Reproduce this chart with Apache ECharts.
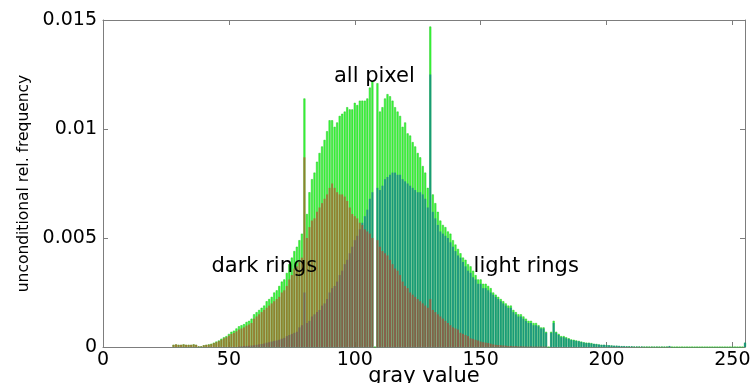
<!DOCTYPE html>
<html>
<head>
<meta charset="utf-8">
<script src="https://cdn.jsdelivr.net/npm/echarts@6/dist/echarts.min.js"></script>
<style>
  html, body { margin: 0; padding: 0; background: #fff; }
  #chart { width: 751px; height: 383px; }
</style>
</head>
<body>
<div id="chart"></div>
<script>
// Gray-value histograms; each array starts at gray value firstGray and runs to 255.
const firstGray = 28;

// all pixels
const allPixel = [
  0.0001, 0.00012, 0.0001, 0.0001, 0.00012, 0.0001, 0.0001, 0.0001, 0.00012, 0.0001,
  0.00003, 0.00003, 0.00008, 0.0001, 0.00012, 0.00015, 0.0002, 0.00025, 0.0003, 0.00038,
  0.00045, 0.0005, 0.0006, 0.0007, 0.00075, 0.00085, 0.00095, 0.001, 0.00105, 0.00115,
  0.0012, 0.0013, 0.0015, 0.0016, 0.0017, 0.0018, 0.0019, 0.0021, 0.0022, 0.0023,
  0.0025, 0.0026, 0.0028, 0.003, 0.0031, 0.0034, 0.0038, 0.0041, 0.0044, 0.0046,
  0.0049, 0.0052, 0.0114, 0.0061, 0.0071, 0.0077, 0.008, 0.0085, 0.0089, 0.0092,
  0.0095, 0.0099, 0.0104, 0.0104, 0.0101, 0.0103, 0.0106, 0.0107, 0.0108, 0.011,
  0.0109, 0.0109, 0.0112, 0.0111, 0.0113, 0.0113, 0.0113, 0.0114, 0.0119, 0.0122,
  0, 0.0121, 0.0108, 0.011, 0.0114, 0.0116, 0.0115, 0.0113, 0.011, 0.0108,
  0.0106, 0.0101, 0.0103, 0.0098, 0.0097, 0.0094, 0.0092, 0.0089, 0.0087, 0.0083,
  0.008, 0.0073, 0.0147, 0.007, 0.0066, 0.0062, 0.0058, 0.0056, 0.0055, 0.0053,
  0.0052, 0.0049, 0.0047, 0.0045, 0.0043, 0.0041, 0.004, 0.0038, 0.0037, 0.0035,
  0.0033, 0.0031, 0.0031, 0.0029, 0.0029, 0.0028, 0.0027, 0.0025, 0.0024, 0.0023,
  0.0022, 0.0021, 0.002, 0.0019, 0.0019, 0.0017, 0.0016, 0.0015, 0.0015, 0.0014,
  0.0013, 0.0012, 0.0012, 0.0011, 0.0011, 0.001, 0.0009, 0.0009, 0.0007, 0,
  0.0007, 0.0012, 0.0007, 0.0006, 0.0005, 0.0005, 0.00045, 0.0004, 0.00035, 0.00033,
  0.0003, 0.00028, 0.00025, 0.00022, 0.0002, 0.0002, 0.00018, 0.00015, 0.00014, 0.00012,
  0.0001, 0.0001, 0.00009, 0.00008, 0.00007, 0.00006, 0.00006, 0.00005, 0.00004, 0.00004,
  0.00003, 0.00003, 0.00003, 0.00002, 0.00002, 0.00002, 0.00002, 0.00001, 0.00001, 0.00001,
  0.00001, 0.00001, 0.00001, 0.00001, 0.00001, 0.00001, 0.00001, 0.00004, 0, 0,
  0, 0, 0, 0, 0, 0, 0, 0, 0, 0,
  0, 0, 0, 0, 0, 0, 0, 0, 0, 0,
  0, 0, 0, 0, 0, 0, 0, 0.0002
];

// pixels belonging to dark rings
const darkRings = [
  0.0001, 0.00012, 0.0001, 0.0001, 0.00012, 0.0001, 0.0001, 0.0001, 0.00012, 0.0001,
  0.00003, 0.00003, 0.00008, 0.0001, 0.00011, 0.00013, 0.00018, 0.00022, 0.00027, 0.00033,
  0.0004, 0.00045, 0.00052, 0.0006, 0.00065, 0.00072, 0.0008, 0.00085, 0.0009, 0.00098,
  0.00103, 0.0011, 0.0013, 0.0014, 0.0015, 0.0016, 0.0017, 0.0018, 0.0019, 0.002,
  0.0021, 0.0022, 0.0023, 0.0025, 0.0026, 0.0028, 0.0031, 0.0033, 0.0036, 0.0037,
  0.0039, 0.0041, 0.0087, 0.005, 0.0055, 0.0058, 0.0059, 0.0062, 0.0064, 0.0066,
  0.0068, 0.007, 0.0073, 0.0075, 0.0073, 0.0071, 0.007, 0.007, 0.0069, 0.0067,
  0.0064, 0.0061, 0.006, 0.0059, 0.0057, 0.0056, 0.0054, 0.0053, 0.0052, 0.005,
  0, 0.0049, 0.0046, 0.0044, 0.0043, 0.0042, 0.004, 0.0038, 0.0036, 0.0035,
  0.0033, 0.003, 0.0028, 0.0027, 0.0025, 0.0024, 0.0023, 0.0022, 0.0021, 0.002,
  0.0019, 0.0018, 0.0022, 0.0017, 0.0016, 0.0015, 0.0014, 0.0013, 0.0012, 0.0011,
  0.001, 0.0009, 0.00085, 0.0008, 0.00065, 0.0006, 0.00055, 0.0005, 0.0004, 0.00037,
  0.00033, 0.0003, 0.00025, 0.00022, 0.0002, 0.00018, 0.00015, 0.00012, 0.0001, 0.00009,
  0.00008, 0.00007, 0.00006, 0.00005, 0.00005, 0.00004, 0.00004, 0.00003, 0.00003, 0.00003,
  0.00002, 0.00002, 0.00002, 0.00002, 0.00002, 0.00002, 0.00002, 0.00002, 0.00002, 0,
  0, 0, 0, 0, 0, 0, 0, 0, 0, 0,
  0, 0, 0, 0, 0, 0, 0, 0, 0, 0,
  0, 0, 0, 0, 0, 0, 0, 0, 0, 0,
  0, 0, 0, 0, 0, 0, 0, 0, 0, 0,
  0, 0, 0, 0, 0, 0, 0, 0, 0, 0,
  0, 0, 0, 0, 0, 0, 0, 0, 0, 0,
  0, 0, 0, 0, 0, 0, 0, 0, 0, 0,
  0, 0, 0, 0, 0, 0, 0, 0
];

// pixels belonging to light rings
const lightRings = [
  0, 0, 0, 0, 0, 0, 0, 0, 0, 0,
  0, 0, 0, 0, 0, 0, 0, 0, 0, 0,
  0, 0, 0, 0, 0, 0, 0.00002, 0.00003, 0.00004, 0.00005,
  0.00006, 0.00007, 0.00008, 0.0001, 0.00012, 0.00014, 0.00016, 0.0002, 0.00022, 0.00025,
  0.00028, 0.0003, 0.00033, 0.00038, 0.00042, 0.0005, 0.00055, 0.0006, 0.00065, 0.0007,
  0.0009, 0.001, 0.0025, 0.0011, 0.0012, 0.0014, 0.0015, 0.0016, 0.0017, 0.0019,
  0.002, 0.0022, 0.0025, 0.0027, 0.0028, 0.003, 0.0033, 0.0035, 0.0038, 0.004,
  0.0043, 0.0046, 0.0049, 0.0051, 0.0054, 0.0057, 0.006, 0.0063, 0.0068, 0.0071,
  0, 0.0073, 0.0072, 0.0074, 0.0077, 0.0078, 0.0079, 0.008, 0.008, 0.0079,
  0.0079, 0.0077, 0.0076, 0.0075, 0.0074, 0.0073, 0.0072, 0.0071, 0.0071, 0.007,
  0.0068, 0.0064, 0.0125, 0.0062, 0.0059, 0.0056, 0.0053, 0.0052, 0.0051, 0.005,
  0.0048, 0.0046, 0.0044, 0.0042, 0.0041, 0.0039, 0.0037, 0.0035, 0.0034, 0.0032,
  0.0031, 0.0029, 0.0029, 0.0027, 0.0027, 0.0026, 0.0025, 0.0024, 0.0023, 0.0022,
  0.0021, 0.002, 0.0019, 0.0018, 0.0018, 0.0016, 0.0015, 0.0014, 0.0014, 0.0013,
  0.0012, 0.0011, 0.0011, 0.001, 0.001, 0.00095, 0.00085, 0.00085, 0.00065, 0,
  0.00065, 0.0011, 0.00065, 0.00055, 0.00045, 0.00045, 0.0004, 0.00037, 0.00032, 0.0003,
  0.00028, 0.00026, 0.00023, 0.0002, 0.00018, 0.00018, 0.00016, 0.00014, 0.00013, 0.00011,
  0.0001, 0.0001, 0.00009, 0.00008, 0.00007, 0.00006, 0.00006, 0.00005, 0.00004, 0.00004,
  0.00003, 0.00003, 0.00003, 0.00002, 0.00002, 0.00002, 0.00002, 0.00001, 0.00001, 0.00001,
  0.00001, 0.00001, 0.00001, 0.00001, 0.00001, 0.00001, 0.00001, 0.00004, 0, 0,
  0, 0, 0, 0, 0, 0, 0, 0, 0, 0,
  0, 0, 0, 0, 0, 0, 0, 0, 0, 0,
  0, 0, 0, 0, 0, 0, 0, 0.0002
];

// x axis ticks
const xTicks = [0, 50, 100, 150, 200, 250];
// y axis ticks
const yTicks = [0, 0.005, 0.01, 0.015];

// in-plot annotations: text, gray value, frequency
const annotations = [
  { text: 'all pixel', at: [107.8, 0.0124] },
  { text: 'dark rings', at: [64.1, 0.0037] },
  { text: 'light rings', at: [168.1, 0.0037] }
];

const toPairs = arr => arr.map((v, i) => [firstGray + i, v]);

const axisColor = '#7d7d7d';
const labelFont = { color: '#000', fontFamily: 'DejaVu Sans', fontSize: 19 };

const chart = echarts.init(document.getElementById('chart'), null, { renderer: 'canvas' });

const xBase = {
  type: 'value', min: 0, max: 255, interval: 50,
  axisLine: { show: true, onZero: false, lineStyle: { color: axisColor, width: 1 } },
  axisTick: { show: true, inside: true, length: 5, lineStyle: { color: axisColor } },
  splitLine: { show: false }
};
const yBase = {
  type: 'value', min: 0, max: 0.015, interval: 0.005,
  axisLine: { show: true, onZero: false, lineStyle: { color: axisColor, width: 1 } },
  axisTick: { show: true, inside: true, length: 5, lineStyle: { color: axisColor } },
  splitLine: { show: false }
};

const barCommon = {
  type: 'bar',
  barWidth: 2,
  barGap: '-100%',
  animation: false,
  silent: true
};

chart.setOption({
  backgroundColor: '#fff',
  animation: false,
  grid: { left: 103, right: 6, top: 20, bottom: 36, containLabel: false, outerBoundsMode: 'none' },
  xAxis: [
    Object.assign({}, xBase, {
      position: 'bottom',
      name: 'gray value',
      nameLocation: 'middle',
      nameGap: 19,
      nameMoveOverlap: false,
      nameTextStyle: { color: '#000', fontFamily: 'DejaVu Sans', fontSize: 21 },
      axisLabel: Object.assign({ margin: 4, showMaxLabel: false,
        formatter: v => (xTicks.indexOf(v) >= 0 ? String(v) : '') }, labelFont)
    }),
    Object.assign({}, xBase, { position: 'top', axisLabel: { show: false } })
  ],
  yAxis: [
    Object.assign({}, yBase, {
      position: 'left',
      name: 'unconditional rel. frequency',
      nameLocation: 'middle',
      nameGap: 71,
      nameMoveOverlap: false,
      nameRotate: 90,
      nameTextStyle: { color: '#000', fontFamily: 'DejaVu Sans', fontSize: 15.5 },
      axisLabel: Object.assign({ margin: 6,
        formatter: v => (yTicks.indexOf(v) >= 0 ? String(v) : '') }, labelFont)
    }),
    Object.assign({}, yBase, { position: 'right', axisLabel: { show: false } })
  ],
  series: [
    Object.assign({}, barCommon, {
      name: 'all pixel',
      data: toPairs(allPixel),
      itemStyle: { color: '#3cfc3c', borderColor: '#22c822', borderWidth: 0.5 }
    }),
    Object.assign({}, barCommon, {
      name: 'light rings',
      data: toPairs(lightRings),
      itemStyle: { color: 'rgba(0, 90, 170, 0.55)' }
    }),
    Object.assign({}, barCommon, {
      name: 'dark rings',
      data: toPairs(darkRings),
      itemStyle: { color: 'rgba(200, 60, 40, 0.6)' }
    })
  ]
});

// Place the annotation texts at their data positions.
chart.setOption({
  graphic: annotations.map(a => {
    const p = chart.convertToPixel({ gridIndex: 0 }, a.at);
    return {
      type: 'text', x: p[0], y: p[1], silent: true, z: 100,
      style: {
        text: a.text, fill: '#000', font: '21px "DejaVu Sans"',
        align: 'center', verticalAlign: 'middle'
      }
    };
  })
});
</script>
</body>
</html>
